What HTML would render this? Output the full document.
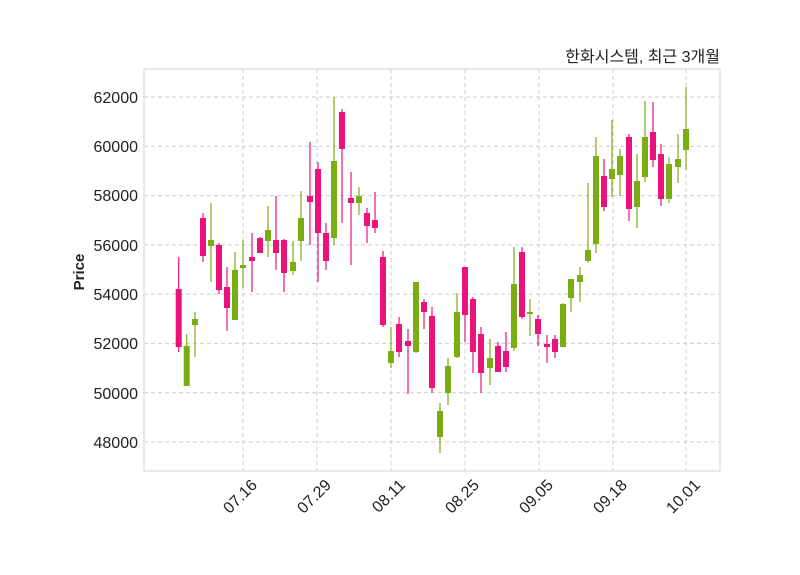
<!DOCTYPE html>
<html><head><meta charset="utf-8"><style>body{margin:0;background:#fff}svg{display:block}</style></head><body>
<svg width="800" height="575" xmlns="http://www.w3.org/2000/svg" font-family="Liberation Sans, Noto Sans CJK KR, sans-serif">
<rect width="800" height="575" fill="#fff"/>
<g stroke="#cccccc" stroke-dasharray="4,3" stroke-width="1">
<line x1="144" x2="720" y1="97" y2="97"/><line x1="144" x2="720" y1="146.3" y2="146.3"/><line x1="144" x2="720" y1="195.6" y2="195.6"/><line x1="144" x2="720" y1="244.9" y2="244.9"/><line x1="144" x2="720" y1="294.1" y2="294.1"/><line x1="144" x2="720" y1="343.4" y2="343.4"/><line x1="144" x2="720" y1="392.7" y2="392.7"/><line x1="144" x2="720" y1="442" y2="442"/>
<line y1="69" y2="471" x1="243" x2="243"/><line y1="69" y2="471" x1="317" x2="317"/><line y1="69" y2="471" x1="391" x2="391"/><line y1="69" y2="471" x1="465" x2="465"/><line y1="69" y2="471" x1="539" x2="539"/><line y1="69" y2="471" x1="613" x2="613"/><line y1="69" y2="471" x1="686" x2="686"/>
</g>
<rect x="144" y="69" width="576" height="402" fill="none" stroke="#dddddd" stroke-width="1.3"/>
<g stroke="#ea137b" stroke-width="1.2">
<line x1="178.7" x2="178.7" y1="257" y2="352"/><line x1="203" x2="203" y1="213" y2="262"/><line x1="219" x2="219" y1="243" y2="294"/><line x1="227" x2="227" y1="267" y2="331"/><line x1="252" x2="252" y1="233" y2="292"/><line x1="260" x2="260" y1="237" y2="253"/><line x1="276" x2="276" y1="196" y2="270"/><line x1="284" x2="284" y1="239" y2="292"/><line x1="310" x2="310" y1="142" y2="245"/><line x1="318" x2="318" y1="162" y2="282"/><line x1="326" x2="326" y1="223" y2="270"/><line x1="342" x2="342" y1="109" y2="223"/><line x1="351" x2="351" y1="172" y2="265"/><line x1="367" x2="367" y1="208" y2="243"/><line x1="375" x2="375" y1="192" y2="233"/><line x1="383" x2="383" y1="251" y2="327"/><line x1="399" x2="399" y1="317" y2="357"/><line x1="408" x2="408" y1="329" y2="394"/><line x1="424" x2="424" y1="299" y2="329"/><line x1="432" x2="432" y1="307" y2="393"/><line x1="465" x2="465" y1="267" y2="342"/><line x1="473" x2="473" y1="297" y2="373"/><line x1="481" x2="481" y1="327" y2="393"/><line x1="498" x2="498" y1="342" y2="372"/><line x1="506" x2="506" y1="332" y2="372"/><line x1="522" x2="522" y1="247" y2="319"/><line x1="538" x2="538" y1="315" y2="346"/><line x1="547" x2="547" y1="335" y2="363"/><line x1="555" x2="555" y1="335" y2="358"/><line x1="604" x2="604" y1="159" y2="211"/><line x1="629" x2="629" y1="134" y2="221"/><line x1="653" x2="653" y1="102" y2="167"/><line x1="661" x2="661" y1="144" y2="206"/>
</g>
<g fill="#ea137b">
<rect x="175.7" y="289" width="6" height="58"/><rect x="200" y="218" width="6" height="38"/><rect x="216" y="245" width="6" height="45"/><rect x="224" y="287" width="6" height="21"/><rect x="249" y="257" width="6" height="4"/><rect x="257" y="238" width="6" height="15"/><rect x="273" y="240" width="6" height="13"/><rect x="281" y="240" width="6" height="33"/><rect x="307" y="196" width="6" height="6"/><rect x="315" y="169" width="6" height="64"/><rect x="323" y="233" width="6" height="28"/><rect x="339" y="112" width="6" height="37"/><rect x="348" y="198" width="6" height="5"/><rect x="364" y="213" width="6" height="13"/><rect x="372" y="220" width="6" height="8"/><rect x="380" y="257" width="6" height="68"/><rect x="396" y="324" width="6" height="28"/><rect x="405" y="341" width="6" height="5"/><rect x="421" y="302" width="6" height="10"/><rect x="429" y="316" width="6" height="72"/><rect x="462" y="267" width="6" height="48"/><rect x="470" y="299" width="6" height="53"/><rect x="478" y="334" width="6" height="39"/><rect x="495" y="346" width="6" height="26"/><rect x="503" y="351" width="6" height="16"/><rect x="519" y="252" width="6" height="65"/><rect x="535" y="319" width="6" height="15"/><rect x="544" y="344" width="6" height="3"/><rect x="552" y="339" width="6" height="13"/><rect x="601" y="176" width="6" height="31"/><rect x="626" y="137" width="6" height="72"/><rect x="650" y="132" width="6" height="28"/><rect x="658" y="154" width="6" height="45"/>
</g>
<g stroke="#7aad12" stroke-width="1.2">
<line x1="186.7" x2="186.7" y1="334" y2="386"/><line x1="195" x2="195" y1="312" y2="357"/><line x1="211" x2="211" y1="203" y2="282"/><line x1="235" x2="235" y1="252" y2="320"/><line x1="243" x2="243" y1="240" y2="288"/><line x1="268" x2="268" y1="206" y2="257"/><line x1="293" x2="293" y1="241" y2="275"/><line x1="301" x2="301" y1="191" y2="261"/><line x1="334" x2="334" y1="97" y2="245"/><line x1="359" x2="359" y1="187" y2="215"/><line x1="391" x2="391" y1="327" y2="368"/><line x1="416" x2="416" y1="282" y2="353"/><line x1="440" x2="440" y1="403" y2="453"/><line x1="448" x2="448" y1="358" y2="405"/><line x1="457" x2="457" y1="293" y2="358"/><line x1="490" x2="490" y1="339" y2="385"/><line x1="514" x2="514" y1="247" y2="351"/><line x1="530" x2="530" y1="299" y2="336"/><line x1="563" x2="563" y1="303" y2="347"/><line x1="571" x2="571" y1="279" y2="312"/><line x1="580" x2="580" y1="267" y2="302"/><line x1="588" x2="588" y1="183" y2="263"/><line x1="596" x2="596" y1="137" y2="253"/><line x1="612" x2="612" y1="120" y2="197"/><line x1="620" x2="620" y1="149" y2="196"/><line x1="637" x2="637" y1="154" y2="228"/><line x1="645" x2="645" y1="101" y2="182"/><line x1="669" x2="669" y1="157" y2="203"/><line x1="678" x2="678" y1="134" y2="183"/><line x1="686" x2="686" y1="87" y2="170"/>
</g>
<g fill="#7aad12">
<rect x="183.7" y="346" width="6" height="40"/><rect x="192" y="319" width="6" height="6"/><rect x="208" y="240" width="6" height="6"/><rect x="232" y="270" width="6" height="50"/><rect x="240" y="265" width="6" height="3"/><rect x="265" y="230" width="6" height="11"/><rect x="290" y="262" width="6" height="9"/><rect x="298" y="218" width="6" height="23"/><rect x="331" y="161" width="6" height="77"/><rect x="356" y="196" width="6" height="7"/><rect x="388" y="351" width="6" height="12"/><rect x="413" y="282" width="6" height="70"/><rect x="437" y="411" width="6" height="26"/><rect x="445" y="366" width="6" height="27"/><rect x="454" y="312" width="6" height="45"/><rect x="487" y="358" width="6" height="10"/><rect x="511" y="284" width="6" height="64"/><rect x="527" y="312" width="6" height="2"/><rect x="560" y="304" width="6" height="43"/><rect x="568" y="279" width="6" height="19"/><rect x="577" y="275" width="6" height="7"/><rect x="585" y="250" width="6" height="11"/><rect x="593" y="156" width="6" height="88"/><rect x="609" y="169" width="6" height="10"/><rect x="617" y="156" width="6" height="19"/><rect x="634" y="181" width="6" height="26"/><rect x="642" y="137" width="6" height="40"/><rect x="666" y="164" width="6" height="35"/><rect x="675" y="159" width="6" height="8"/><rect x="683" y="129" width="6" height="21"/>
</g>
<g font-size="16" fill="#222" text-anchor="end">
<text x="138" y="103">62000</text><text x="138" y="152">60000</text><text x="138" y="201">58000</text><text x="138" y="251">56000</text><text x="138" y="300">54000</text><text x="138" y="349">52000</text><text x="138" y="399">50000</text><text x="138" y="448">48000</text>
</g>
<g font-size="16" fill="#222" text-anchor="end">
<text transform="translate(258,486) rotate(-45)">07.16</text>
<text transform="translate(332,486) rotate(-45)">07.29</text>
<text transform="translate(406,486) rotate(-45)">08.11</text>
<text transform="translate(480,486) rotate(-45)">08.25</text>
<text transform="translate(554,486) rotate(-45)">09.05</text>
<text transform="translate(628,486) rotate(-45)">09.18</text>
<text transform="translate(701,486) rotate(-45)">10.01</text>
</g>
<text transform="translate(84,272) rotate(-90)" font-size="15" font-weight="bold" fill="#222" text-anchor="middle">Price</text>
<text x="720" y="62" font-size="16" fill="#222" text-anchor="end">한화시스템, 최근 3개월</text>
</svg>
</body></html>
